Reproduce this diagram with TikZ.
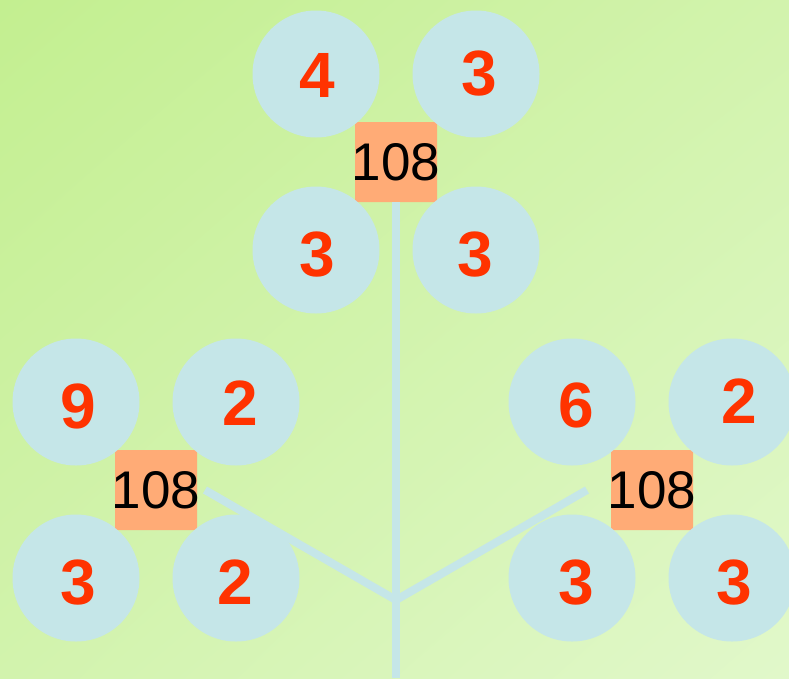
\documentclass[tikz,border=0pt]{standalone}
\usepackage{fontspec}
\setmainfont{Liberation Sans}
\usetikzlibrary{shadings}
\definecolor{bgtl}{HTML}{C3EF90}
\definecolor{bgmid}{HTML}{D2F3AD}
\definecolor{bgbr}{HTML}{E1F8CA}
\definecolor{leafblue}{HTML}{C5E6E8}
\definecolor{numred}{HTML}{FF3300}
\definecolor{prodorange}{HTML}{FFAB76}
% digit moved a little inside its circle: dx, dy (down), digit
\newcommand{\offnum}[3]{\kern#1pt\raisebox{-#2pt}[0.72em][0pt]{#3}\kern-#1pt}
\begin{document}
\begin{tikzpicture}[
        x=1pt, y=-1pt,
        every node/.style={inner sep=0pt},
        leaf/.style={circle, fill=leafblue, minimum size=127pt, text=numred, font=\fontsize{64}{64}\selectfont\bfseries},
        prod/.style={rectangle, rounded corners=2pt, fill=prodorange, minimum height=80pt, font=\fontsize{53}{53}\selectfont},
        stem/.style={draw=leafblue, line width=8pt},
    ]
    \useasboundingbox (0,0) rectangle (789,678);
    \shade[upper left=bgtl, upper right=bgmid, lower left=bgmid, lower right=bgbr] (0,0) rectangle (789,678);

    % top group
    \node[prod](top) at (396,162) {\makebox[82pt]{\raisebox{-2pt}{108}}};
    \node[leaf](top4) at (316,74) {\offnum{1}{0}{4}};
    \node[leaf](top3a) at (476,74) {\offnum{3.5}{-1.5}{3}};
    \node[leaf](top3b) at (316,250) {\offnum{1.5}{3.5}{3}};
    \node[leaf](top3c) at (476,250) {\offnum{-1}{3.5}{3}};

    % left group
    \node[prod](left) at (156,490) {\makebox[82pt]{108}};
    \node[leaf](left9) at (76,402) {\offnum{2}{3.5}{9}};
    \node[leaf](left2a) at (236,402) {\offnum{4}{0}{2}};
    \node[leaf](left3) at (76,578) {\offnum{2}{3.5}{3}};
    \node[leaf](left2b) at (236,578) {\offnum{-1}{3.5}{2}};

    % right group
    \node[prod](right) at (652,490) {\makebox[82pt]{108}};
    \node[leaf](right6) at (572,402) {\offnum{4}{2}{6}};
    \node[leaf](right2) at (732,402) {\offnum{7.5}{-2}{2}};
    \node[leaf](right3a) at (572,578) {\offnum{4}{3.5}{3}};
    \node[leaf](right3b) at (732,578) {\offnum{2}{3.5}{3}};

    % stem
    \coordinate (base) at (396,678);
    \coordinate (fork) at (396,600);
    \coordinate (lend) at (205,490);
    \coordinate (rend) at (587,490);
    \draw[stem] (base) -- (fork) -- (top.south);
    \draw[stem] (fork) -- (lend);
    \draw[stem] (fork) -- (rend);
\end{tikzpicture}
\end{document}
